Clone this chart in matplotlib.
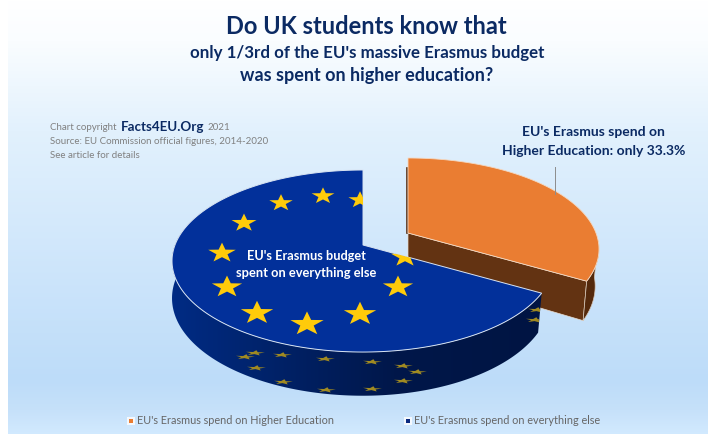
#!/usr/bin/env python3

import numpy as np
import matplotlib
matplotlib.use("Agg")
import matplotlib.pyplot as plt
from matplotlib.patches import Polygon, Rectangle

# data
categories = ["EU's Erasmus spend on Higher Education", "EU's Erasmus spend on everything else"]
shares = [33.3, 66.7]

NAVY_TEXT = "#0b2a63"
GREY = "#808080"
ORANGE = "#ea7d32"
BLUE = "#02309a"
GOLD = "#ffcb0a"

plt.rcParams['font.family'] = ['Lato', 'DejaVu Sans']

# the pie is a flat disc seen in perspective, all in picture pixels
CX, CY = 363, 245
A, B, K = 188, 88.2, 0.176
DEPTH = 36
EXPLODE = (45, -12)

# stars painted on the top of the disc, and their mirror on the side
TOP_STARS = [(323, 196), (360, 200), (396, 225), (405, 257), (398, 287), (360, 314),
             (307, 324), (257, 313), (227, 287), (222, 253), (244, 223), (281, 203)]
SIDE_STARS = [(255, 353), (282, 355), (325, 359), (372, 362), (403, 366), (417, 372),
              (403, 381), (372, 389), (326, 390), (283, 382), (256, 368), (245, 357),
              (535, 320), (537, 310)]


def project(theta, radius=1.0, drop=0.0):
    # theta in degrees clockwise from 12 o'clock
    t = np.radians(theta)
    u = radius * np.sin(t)
    v = -radius * np.cos(t)
    s = 1 / (1 - K * v)
    # lower rim pulls in a little on the right only
    shrink = np.where(u > 0, 1 - 0.02 * drop / DEPTH, 1.0)
    return np.column_stack([CX + A * u * s * shrink, CY + B * v * s + drop * s])


def wedge(start, end, drop=0.0):
    th = np.linspace(start, end, 200)
    rim = project(th, drop=drop)
    return np.vstack([project(np.array([0.0]), 0.0, drop), rim])


def star(x, y, r, squash=0.72, rot=0.0):
    ang = np.radians(np.arange(10) * 36 - 90 + rot)
    rad = np.where(np.arange(10) % 2 == 0, r, r * 0.40)
    return np.column_stack([x + rad * np.cos(ang), y + rad * np.sin(ang) * squash])


fig = plt.figure(figsize=(7.08, 4.34), dpi=100)
ax = fig.add_axes([0, 0, 1, 1])

# background
stops_y = [0, 40, 130, 380, 410, 434]
stops_c = np.array([[255, 255, 255], [250, 253, 255], [226, 241, 253],
                    [189, 220, 249], [198, 225, 250], [210, 234, 255]]) / 255
ys = np.arange(434)
rows = np.column_stack([np.interp(ys, stops_y, stops_c[:, i]) for i in range(3)])
ax.imshow(rows[:, None, :], extent=(8, 708, 434, 0), aspect="auto", zorder=0)

# slice angles come from the shares
orange_end = 360 * shares[0] / sum(shares)
navy_start, navy_end = orange_end, 360.0

# orange slice, moved out of the pie
dx, dy = EXPLODE
top_o = wedge(0, orange_end) + [dx, dy]
face = np.vstack([project(np.array([0.0]), 0.0), project(np.array([orange_end])),
                  project(np.array([orange_end]), drop=DEPTH), project(np.array([0.0]), 0.0, DEPTH)]) + [dx, dy]
ax.add_patch(Polygon(face, closed=True, fc="#633312", ec="#e8dccf", lw=0.5, zorder=2))
th = np.linspace(95, orange_end, 60)
outer = np.vstack([project(th), project(th[::-1], drop=DEPTH)]) + [dx, dy]
ax.add_patch(Polygon(outer, closed=True, fc="#54290c", ec="#d8c8b8", lw=0.5, zorder=2))
back = np.vstack([project(np.array([0.0]), 0.0), project(np.array([0.0]), 0.85)]) + [dx - 1, dy]
ax.plot(back[:, 0], back[:, 1], color="#54290c", lw=1.2, zorder=2)
ax.add_patch(Polygon(top_o, closed=True, fc=ORANGE, ec="#f4d9c2", lw=0.6, zorder=3))

# navy side, darker to the right
th = np.linspace(navy_start, 278, 240)
side = np.vstack([project(th), project(th[::-1], drop=DEPTH)])
side_patch = Polygon(side, closed=True, fc="none", ec="none", zorder=4)
ax.add_patch(side_patch)
shade = np.array([[0.00, 0.17, 0.52], [0.00, 0.13, 0.40], [0.00, 0.09, 0.29], [0.00, 0.08, 0.26]])
xs = np.linspace(0, 1, 256)
col = np.column_stack([np.interp(xs, [0, 0.3, 0.6, 1], shade[:, i]) for i in range(3)])
im = ax.imshow(col[None, :, :], extent=(170, 545, 434, 0), aspect="auto", zorder=4)
im.set_clip_path(side_patch)
for x, y in SIDE_STARS:
    p = Polygon(star(x, y, 10, squash=0.28, rot=8), closed=True, fc="#a08a22", ec="none", zorder=5)
    ax.add_patch(p)
    p.set_clip_path(side_patch)

# navy top with the ring of stars
top_n = Polygon(wedge(navy_start, navy_end), closed=True, fc=BLUE, ec="#d9e4f2", lw=0.7, zorder=6)
ax.add_patch(top_n)
for x, y in TOP_STARS:
    r = 12 + 5.5 * (y - 196) / 128
    p = Polygon(star(x, y, r), closed=True, fc=GOLD, ec="none", zorder=7)
    ax.add_patch(p)
    p.set_clip_path(top_n)

# titles
ax.text(366, 26, "Do UK students know that", ha="center", va="center", color=NAVY_TEXT,
        fontsize=17, fontweight="bold", zorder=9)
ax.text(367, 53, "only 1/3rd of the EU's massive Erasmus budget", ha="center", va="center",
        color=NAVY_TEXT, fontsize=12.2, fontweight="bold", zorder=9)
ax.text(367, 76, "was spent on higher education?", ha="center", va="center",
        color=NAVY_TEXT, fontsize=13, fontweight="bold", zorder=9)

# copyright block
ax.text(50, 128, "Chart copyright", va="center", color=GREY, fontsize=7, zorder=9)
ax.text(121, 127, "Facts4EU.Org", va="center", color=NAVY_TEXT, fontsize=9.6, fontweight="bold", zorder=9)
ax.text(207, 128, "2021", va="center", color=GREY, fontsize=7, zorder=9)
ax.text(50, 142, "Source: EU Commission official figures, 2014-2020", va="center", color=GREY, fontsize=7, zorder=9)
ax.text(50, 156, "See article for details", va="center", color=GREY, fontsize=7, zorder=9)

# slice labels
ax.plot([555, 555], [167, 194], color="#8c8c8c", lw=0.7, zorder=8)
ax.text(593, 132, "EU's Erasmus spend on", ha="center", va="center", color=NAVY_TEXT,
        fontsize=10, fontweight="bold", zorder=9)
ax.text(594, 151, "Higher Education: only 33.3%", ha="center", va="center", color=NAVY_TEXT,
        fontsize=10, fontweight="bold", zorder=9)
ax.text(306, 256, "EU's Erasmus budget", ha="center", va="center", color="white",
        fontsize=9.2, fontweight="bold", zorder=9)
ax.text(306, 273, "spent on everything else", ha="center", va="center", color="white",
        fontsize=9.3, fontweight="bold", zorder=9)

# legend
for label, colour, bx in zip(categories, [ORANGE, "#0a2a80"], [127, 404]):
    ax.add_patch(Rectangle((bx, 417), 8, 8, fc="#f4f8fd", ec="none", zorder=8))
    ax.add_patch(Rectangle((bx + 2, 419), 4, 4, fc=colour, ec="none", zorder=9))
    ax.text(bx + 10, 421, label, va="center", color="#666666", fontsize=7.8, zorder=9)

ax.set_xlim(0, 708)
ax.set_ylim(434, 0)
ax.axis("off")

plt.savefig("out.png", dpi=100)
